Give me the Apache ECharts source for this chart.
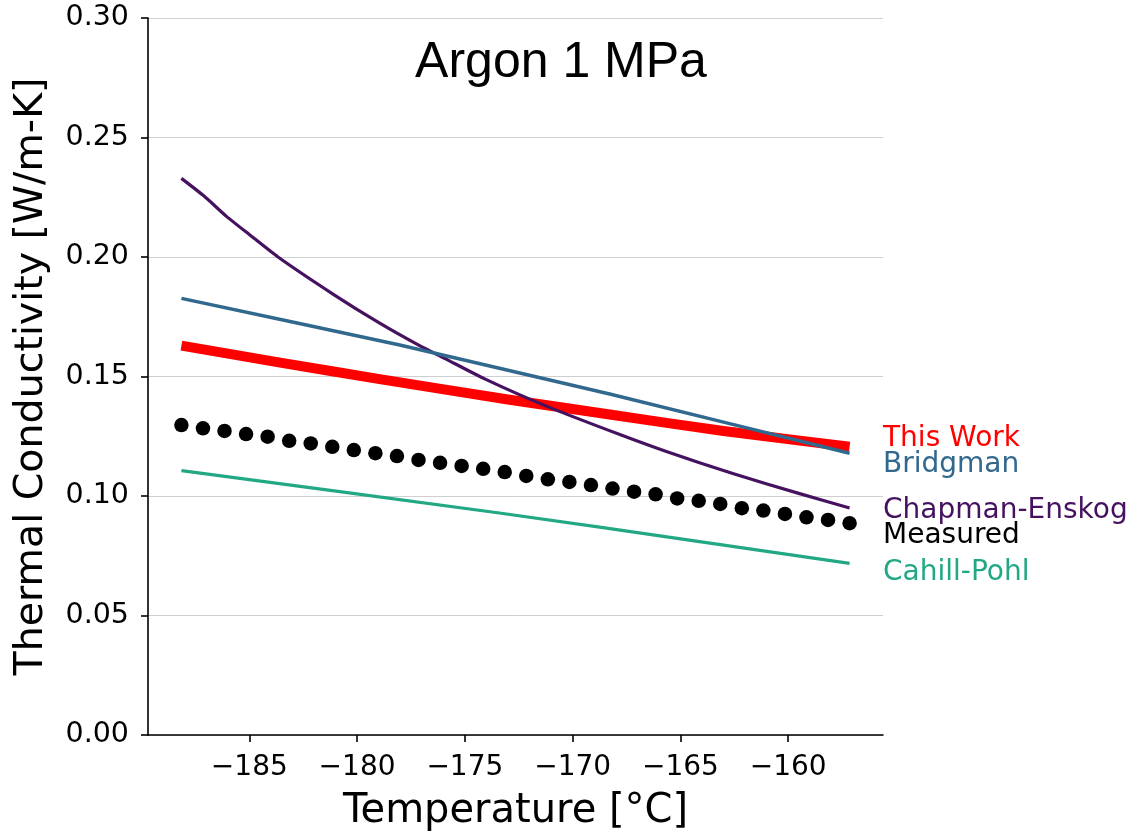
<!DOCTYPE html>
<html>
<head>
<meta charset="utf-8">
<script src="https://cdn.jsdelivr.net/npm/echarts@6/dist/echarts.min.js"></script>
<style>
html,body{margin:0;padding:0;background:#fff;}
#chart{width:1138px;height:835px;}
</style>
</head>
<body>
<div id="chart"></div>
<script>
// ---- data (temperature in °C, conductivity in W/m-K) ----
const xTicks = [-185, -180, -175, -170, -165, -160];
const yTicks = [0, 0.05, 0.10, 0.15, 0.20, 0.25, 0.30];

const thisWorkT = [-188.15, -183.5, -178.95, -173.0, -168.28, -163.0, -157.15];
const thisWorkK = [0.1629, 0.1557, 0.1489, 0.1404, 0.1341, 0.1272, 0.1206];

const bridgmanT = [-188.15, -183.0, -178.02, -168.28, -163.0, -157.15];
const bridgmanK = [0.1827, 0.1728, 0.1632, 0.1427, 0.1309, 0.1179];

const chapmanT = [-188.15, -187.1, -186.06, -185.0, -183.67, -181.12, -178.95, -177.1, -175.94, -174.08, -171.22, -167.81, -165.65, -162.57, -159.47, -157.15];
const chapmanK = [0.2329, 0.2255, 0.2170, 0.2094, 0.2000, 0.1845, 0.1723, 0.1629, 0.1576, 0.1490, 0.1376, 0.1257, 0.1186, 0.1094, 0.1010, 0.0950];

const cahillT = [-188.15, -180.8, -173.4, -168.75, -157.15];
const cahillK = [0.1106, 0.1018, 0.0929, 0.0870, 0.0718];

const measuredT = [-188.15, -187.15, -186.15, -185.15, -184.15, -183.15, -182.15, -181.15, -180.15, -179.15,
                   -178.15, -177.15, -176.15, -175.15, -174.15, -173.15, -172.15, -171.15, -170.15, -169.15,
                   -168.15, -167.15, -166.15, -165.15, -164.15, -163.15, -162.15, -161.15, -160.15, -159.15,
                   -158.15, -157.15];
const measuredK = [0.1297, 0.1283, 0.1272, 0.1259, 0.1248, 0.1231, 0.1220, 0.1206, 0.1192, 0.1179,
                   0.1167, 0.1151, 0.1139, 0.1126, 0.1114, 0.1100, 0.1084, 0.1070, 0.1059, 0.1046,
                   0.1031, 0.1018, 0.1007, 0.0990, 0.0980, 0.0967, 0.0949, 0.0939, 0.0925, 0.0911,
                   0.0900, 0.0886];

const seriesNames = ['This Work', 'Bridgman', 'Chapman-Enskog', 'Measured', 'Cahill-Pohl'];
const colors = {
  'This Work': '#ff0000',
  'Bridgman': '#31688e',
  'Chapman-Enskog': '#46125f',
  'Measured': '#000000',
  'Cahill-Pohl': '#22a884'
};

function zip(a, b) { return a.map((v, i) => [v, b[i]]); }

const FONT = '"DejaVu Sans", sans-serif';
const chart = echarts.init(document.getElementById('chart'), null, {renderer: 'canvas'});

const labelPos = [
  ['This Work', 436],
  ['Bridgman', 462],
  ['Chapman-Enskog', 508],
  ['Measured', 533],
  ['Cahill-Pohl', 570]
];

chart.setOption({
  animation: false,
  backgroundColor: '#ffffff',
  title: {
    text: 'Argon 1 MPa',
    left: 556,
    top: 33,
    textAlign: 'center',
    textStyle: {fontFamily: '"Liberation Sans", Arial, sans-serif', fontSize: 50, fontWeight: 'normal', color: '#000'}
  },
  grid: {left: 148, right: 255, top: 18, bottom: 100, containLabel: false, outerBoundsMode: 'none'},
  xAxis: {
    type: 'value',
    min: -189.7,
    max: -155.6,
    name: 'Temperature [°C]',
    nameLocation: 'middle',
    nameGap: 57,
    nameTextStyle: {fontFamily: FONT, fontSize: 40, color: '#000'},
    axisLine: {show: true, onZero: false, lineStyle: {color: '#000', width: 1.6}},
    axisTick: {show: true, length: 7, inside: false, lineStyle: {color: '#000', width: 1.6}, customValues: xTicks},
    axisLabel: {
      show: true, margin: 19, fontFamily: FONT, fontSize: 28, color: '#000',
      customValues: xTicks,
      formatter: v => String(v).replace('-', '\u2212')
    },
    splitLine: {show: false}
  },
  yAxis: {
    type: 'value',
    min: 0,
    max: 0.3,
    interval: 0.05,
    name: 'Thermal Conductivity [W/m-K]',
    nameLocation: 'middle',
    nameGap: 96,
    nameTextStyle: {fontFamily: FONT, fontSize: 39.5, color: '#000'},
    axisLine: {show: true, lineStyle: {color: '#000', width: 1.6}},
    axisTick: {show: true, length: 7, inside: false, lineStyle: {color: '#000', width: 1.6}},
    axisLabel: {
      show: true, margin: 19, fontFamily: FONT, fontSize: 28.5, color: '#000',
      formatter: v => v.toFixed(2)
    },
    splitLine: {show: true, lineStyle: {color: '#cfcfcf', width: 1}}
  },
  series: [
    {
      name: 'Cahill-Pohl', type: 'line', data: zip(cahillT, cahillK), showSymbol: false, symbol: 'none',
      smooth: false, lineStyle: {color: colors['Cahill-Pohl'], width: 3.2, cap: 'butt'}, z: 2
    },
    {
      name: 'Measured', type: 'scatter', data: zip(measuredT, measuredK), symbol: 'circle', symbolSize: 14.5,
      itemStyle: {color: colors['Measured'], opacity: 1}, z: 3
    },
    {
      name: 'Chapman-Enskog', type: 'line', data: zip(chapmanT, chapmanK), showSymbol: false, symbol: 'none',
      smooth: 0.2, lineStyle: {color: colors['Chapman-Enskog'], width: 3.2, cap: 'butt', join: 'round'}, z: 4
    },
    {
      name: 'Bridgman', type: 'line', data: zip(bridgmanT, bridgmanK), showSymbol: false, symbol: 'none',
      smooth: false, lineStyle: {color: colors['Bridgman'], width: 3.5, cap: 'butt', join: 'round'}, z: 5
    },
    {
      name: 'This Work', type: 'line', data: zip(thisWorkT, thisWorkK), showSymbol: false, symbol: 'none',
      smooth: 0.2, lineStyle: {color: colors['This Work'], width: 10, cap: 'butt', join: 'round'}, z: 1
    }
  ],
  graphic: labelPos.map(([name, y]) => ({
    type: 'text',
    left: 883,
    top: y - 11,
    silent: true,
    style: {text: name, fill: colors[name], font: '28px "DejaVu Sans", sans-serif'}
  }))
});
</script>
</body>
</html>
